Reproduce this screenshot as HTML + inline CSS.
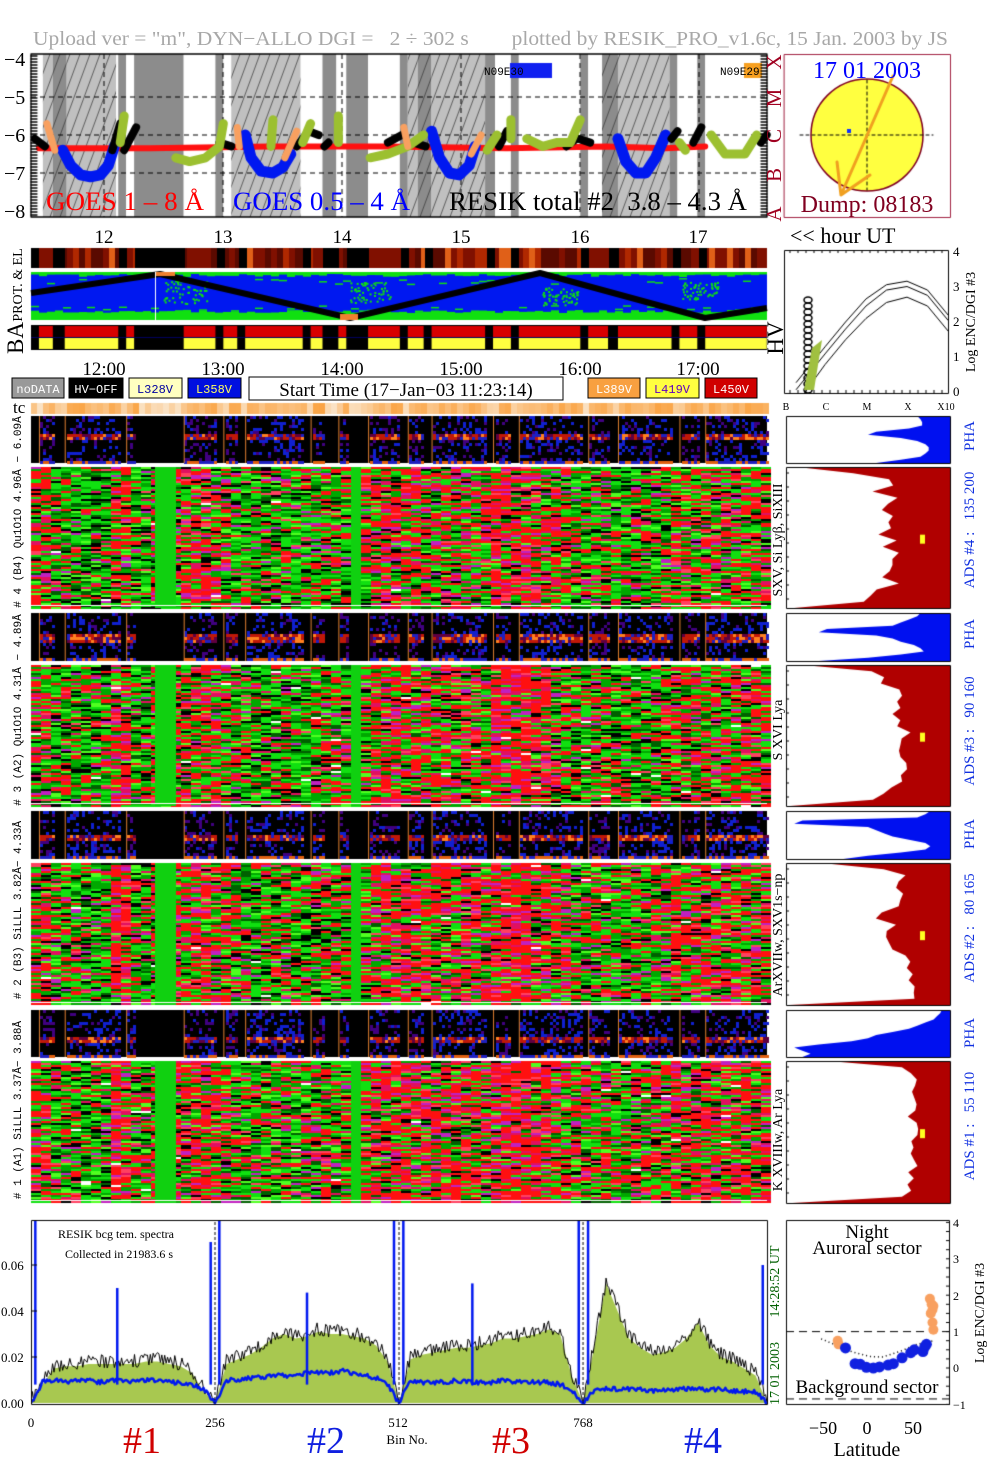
<!DOCTYPE html>
<html><head><meta charset="utf-8"><style>
html,body{margin:0;padding:0;background:#fff;}
#wrap{position:relative;width:1004px;height:1477px;overflow:hidden;}
canvas,svg{position:absolute;left:0;top:0;}
svg text{font-family:"Liberation Serif",serif;white-space:pre;}
.mono{font-family:"Liberation Mono",monospace !important;}
</style></head><body>
<div id="wrap">
<canvas id="cv" width="1004" height="1477"></canvas>
<svg id="tx" width="1004" height="1477" xml:space="preserve">
<text x="33" y="45" font-size="20" fill="#a8a8a8" textLength="915" lengthAdjust="spacingAndGlyphs">Upload ver = "m", DYN−ALLO DGI =   2 ÷ 302 s        plotted by RESIK_PRO_v1.6c, 15 Jan. 2003 by JS</text>
<g font-size="20" fill="#000">
<text x="4" y="66">−4</text><text x="4" y="104">−5</text><text x="4" y="142">−6</text><text x="4" y="180">−7</text><text x="4" y="218">−8</text></g>
<text x="46" y="210" font-size="26" fill="#f00" textLength="158" lengthAdjust="spacingAndGlyphs">GOES 1 – 8 Å</text>
<text x="233" y="210" font-size="26" fill="#00f" textLength="177" lengthAdjust="spacingAndGlyphs">GOES 0.5 – 4 Å</text>
<text x="449" y="210" font-size="26" fill="#000" textLength="298" lengthAdjust="spacingAndGlyphs">RESIK total #2  3.8 – 4.3 Å</text>
<text x="484" y="75" font-size="11" class="mono" fill="#000">N09E30</text>
<text x="720" y="75" font-size="11" class="mono" fill="#000">N09E29</text>
<g font-size="21" fill="#a00020">
<text transform="translate(781,62) rotate(-90)" text-anchor="middle">X</text>
<text transform="translate(781,98) rotate(-90)" text-anchor="middle">M</text>
<text transform="translate(781,136) rotate(-90)" text-anchor="middle">C</text>
<text transform="translate(781,175) rotate(-90)" text-anchor="middle">B</text>
<text transform="translate(781,214) rotate(-90)" text-anchor="middle">A</text></g>
<text x="867" y="78" font-size="24" fill="#0000ff" text-anchor="middle">17 01 2003</text>
<text x="867" y="212" font-size="24" fill="#800020" text-anchor="middle">Dump: 08183</text>
<g font-size="19" text-anchor="middle">
<text x="104" y="243">12</text><text x="223" y="243">13</text><text x="342" y="243">14</text><text x="461" y="243">15</text><text x="580" y="243">16</text><text x="698" y="243">17</text></g>
<text x="790" y="243" font-size="22">&lt;&lt; hour UT</text>
<text transform="translate(22,285) rotate(-90)" font-size="14" text-anchor="middle">PROT. &amp; EL</text>
<text transform="translate(23,338) rotate(-90)" font-size="23" text-anchor="middle">BA</text>
<text transform="translate(783,338) rotate(-90)" font-size="23" text-anchor="middle">HV</text>
<g font-size="19" text-anchor="middle">
<text x="104" y="375">12:00</text><text x="223" y="375">13:00</text><text x="342" y="375">14:00</text><text x="461" y="375">15:00</text><text x="580" y="375">16:00</text><text x="698" y="375">17:00</text></g>
<g font-size="12" class="mono">
<rect x="12" y="378" width="52" height="20" fill="#999" stroke="#000"/><text x="38" y="393" text-anchor="middle" fill="#fff" class="mono">noDATA</text>
<rect x="69" y="378" width="54" height="20" fill="#000" stroke="#000"/><text x="96" y="393" text-anchor="middle" fill="#fff" class="mono">HV−OFF</text>
<rect x="129" y="378" width="53" height="20" fill="#ffffc0" stroke="#000"/><text x="155" y="393" text-anchor="middle" fill="#0000a0" class="mono">L328V</text>
<rect x="188" y="378" width="53" height="20" fill="#0010e0" stroke="#000"/><text x="214" y="393" text-anchor="middle" fill="#ffff60" class="mono">L358V</text>
<rect x="249" y="377" width="314" height="23" fill="#fff" stroke="#000"/>
<text x="406" y="396" text-anchor="middle" font-size="19" style="font-family:'Liberation Serif',serif">Start Time (17−Jan−03 11:23:14)</text>
<rect x="588" y="378" width="52" height="20" fill="#f8a040" stroke="#000"/><text x="614" y="393" text-anchor="middle" fill="#fff" class="mono">L389V</text>
<rect x="646" y="378" width="53" height="20" fill="#ffff40" stroke="#000"/><text x="672" y="393" text-anchor="middle" fill="#6000c0" class="mono">L419V</text>
<rect x="705" y="378" width="52" height="20" fill="#d00000" stroke="#000"/><text x="731" y="393" text-anchor="middle" fill="#fff" class="mono">L450V</text></g>
<text x="13" y="413" font-size="17">tc</text>
<g font-size="10" text-anchor="middle">
<text x="786" y="410">B</text><text x="826" y="410">C</text><text x="867" y="410">M</text><text x="908" y="410">X</text><text x="946" y="410">X10</text></g>
<g font-size="13">
<text x="953" y="256">4</text><text x="953" y="291">3</text><text x="953" y="326">2</text><text x="953" y="361">1</text><text x="953" y="396">0</text></g>
<text transform="translate(975,322) rotate(-90)" font-size="14" text-anchor="middle">Log ENC/DGI #3</text>
<g font-size="11" class="mono" text-anchor="middle" fill="#000">
<text class="mono" transform="translate(21,512) rotate(-90)"># 4 (B4) Qu1O1O 4.96Å − 6.09Å</text>
<text class="mono" transform="translate(21,710) rotate(-90)"># 3 (A2) Qu1O1O 4.31Å − 4.89Å</text>
<text class="mono" transform="translate(21,910) rotate(-90)"># 2 (B3) SiLLL 3.82Å− 4.33Å</text>
<text class="mono" transform="translate(21,1110) rotate(-90)"># 1 (A1) SiLLL 3.37Å− 3.88Å</text></g>
<g font-size="14" text-anchor="middle">
<text transform="translate(782,540) rotate(-90)">SXV, Si Lyβ, SiXIII</text>
<text transform="translate(782,730) rotate(-90)">S XVI Lya</text>
<text transform="translate(782,935) rotate(-90)">ArXVIIw, SXV1s−np</text>
<text transform="translate(782,1140) rotate(-90)">K XVIIIw, Ar Lya</text></g>
<g font-size="15" fill="#1030e0" text-anchor="middle">
<text transform="translate(974,436) rotate(-90)">PHA</text><text transform="translate(974,530) rotate(-90)">ADS #4 :   135 200</text>
<text transform="translate(974,634) rotate(-90)">PHA</text><text transform="translate(974,731) rotate(-90)">ADS #3 :   90 160</text>
<text transform="translate(974,834) rotate(-90)">PHA</text><text transform="translate(974,928) rotate(-90)">ADS #2 :   80 165</text>
<text transform="translate(974,1033) rotate(-90)">PHA</text><text transform="translate(974,1126) rotate(-90)">ADS #1 :   55 110</text></g>
<g font-size="13">
<text x="1" y="1408">0.00</text><text x="1" y="1362">0.02</text><text x="1" y="1316">0.04</text><text x="1" y="1270">0.06</text></g>
<text x="58" y="1238" font-size="12">RESIK bcg tem. spectra</text>
<text x="65" y="1258" font-size="12">Collected in 21983.6 s</text>
<text transform="translate(779,1405) rotate(-90)" font-size="14" fill="#006000">17 01 2003       14:28:52 UT</text>
<g font-size="13" text-anchor="middle">
<text x="31" y="1427">0</text><text x="215" y="1427">256</text><text x="398" y="1427">512</text><text x="583" y="1427">768</text></g>
<text x="407" y="1444" font-size="13" text-anchor="middle">Bin No.</text>
<g font-size="38" text-anchor="middle">
<text x="142" y="1453" fill="#d00000">#1</text><text x="326" y="1453" fill="#1020e0">#2</text><text x="511" y="1453" fill="#d00000">#3</text><text x="703" y="1453" fill="#1020e0">#4</text></g>
<text x="867" y="1238" font-size="19" text-anchor="middle">Night</text>
<text x="867" y="1254" font-size="19" text-anchor="middle">Auroral sector</text>
<text x="867" y="1393" font-size="19" text-anchor="middle">Background sector</text>
<g font-size="18" text-anchor="middle">
<text x="823" y="1434">−50</text><text x="867" y="1434">0</text><text x="913" y="1434">50</text></g>
<text x="867" y="1456" font-size="20" text-anchor="middle">Latitude</text>
<g font-size="12">
<text x="953" y="1227">4</text><text x="953" y="1263">3</text><text x="953" y="1300">2</text><text x="953" y="1336">1</text><text x="953" y="1372">0</text><text x="953" y="1409">−1</text></g>
<text transform="translate(984,1313) rotate(-90)" font-size="14" text-anchor="middle">Log ENC/DGI #3</text>
</svg>
</div>
<script>
// ---------- data (time in minutes since 11:23:14) ----------
const baOn = [[4,11],[17,44],[48,52],[77,93],[97,104],[108,137],[141,147],[155,159],[170,186],[190,198],[202,229],[233,242],[246,277],[281,291],[296,323],[327,336],[340,371]];
// background type: 0 white, 1 light hatched, 2 dark hatched, 3 dark plain
const bgBands = [[0,6,0],[6,11,1],[11,18,2],[18,43,1],[43,44,0],[44,48,3],[48,52,0],[52,77,3],[77,93,0],[93,97,3],[97,101,0],[101,136,1],[136,147,0],[147,154,3],[154,159,0],[159,170,3],[170,186,0],[186,190,3],[190,195,1],[195,202,2],[202,229,1],[229,234,3],[234,242,0],[242,246,3],[246,277,0],[277,281,3],[281,288,0],[288,296,2],[296,322,1],[322,326,3],[326,336,0],[336,340,3],[340,371,0]];
const goesLong = [[4,-6.35],[60,-6.35],[120,-6.3],[180,-6.3],[240,-6.35],[290,-6.3],[320,-6.35],[340,-6.3]];
const goesShortU = [
 [[16,-6.4],[20,-6.8],[25,-7.05],[30,-7.1],[35,-7.05],[39,-6.8],[42,-6.3]],
 [[108,-6.0],[111,-6.6],[116,-6.95],[122,-7.0],[127,-6.85],[131,-6.5]],
 [[202,-5.9],[206,-6.6],[211,-7.0],[216,-7.05],[221,-6.8],[224,-6.3]],
 [[296,-6.1],[300,-6.7],[305,-7.0],[310,-7.0],[315,-6.6],[320,-6.0]]];
const resikGreen = [
 [[45,-6.2],[47,-5.5]],[[73,-6.6],[80,-6.7],[88,-6.6],[95,-6.3],[97,-5.7]],[[121,-6.3],[122,-5.6]],[[137,-6.2],[141,-5.7]],
 [[155,-6.2],[155,-5.5]],[[171,-6.6],[180,-6.5],[190,-6.3],[198,-6.0]],[[230,-6.4],[235,-6.0]],[[242,-5.6],[242,-6.1]],
 [[250,-6.1],[258,-6.3],[265,-6.2],[272,-6.2],[277,-5.6]],[[327,-6.2],[330,-6.4]],[[343,-6.0],[350,-6.5],[360,-6.5],[366,-6.0]]];
const resikOrange = [[[8,-5.7],[12,-6.4]],[[104,-5.8],[105,-6.3]],[[128,-6.6],[134,-5.9]],[[188,-5.8],[190,-6.3]],[[222,-6.5],[227,-6.0]]];
const resikBlack = [[[2,-6.1],[7,-6.3]],[[41,-6.4],[45,-5.7]],[[47,-6.4],[53,-5.8]],[[95,-6.2],[101,-6.3]],[[134,-6.3],[140,-5.9],[145,-6.0]],[[148,-6.3],[150,-6.2]],[[180,-6.2],[187,-6.0]],[[193,-6.2],[199,-6.3]],[[236,-6.3],[240,-5.9]],[[270,-6.3],[275,-6.1]],[[276,-6.1],[282,-6.2]],[[323,-6.1],[326,-5.9]],[[334,-6.2],[338,-5.8]],[[368,-6.2],[371,-6.0]]];
// ADS redness per 20px column segment, per group (4,3,2,1)
const redBase = [.5,.25,.2,.2,.65,.2,.4,.5,.55,.45,.25,.2,.25,.2,.35,.3,.35,.6,.6,.55,.5,.5,.45,.7,.7,.6,.45,.3,.35,.25,.3,.35,.45,.5,.45,.5,.5];
const redShift = [0, .02, .06, .08];
const phaBandPos = [0.42, 0.5, 0.52, 0.62];
const phaProfiles = [
 [0.2,0.18,0.17,0.17,0.25,0.45,0.5,0.3,0.2,0.15,0.13,0.13,0.15,0.18,0.3,0.45],
 [0.18,0.2,0.25,0.3,0.35,0.75,0.8,0.45,0.35,0.3,0.22,0.18,0.16,0.3,0.5,0.8],
 [0.12,0.15,0.2,0.9,0.95,0.5,0.45,0.4,0.35,0.25,0.15,0.12,0.15,0.3,0.5,0.65],
 [0.05,0.06,0.08,0.1,0.15,0.2,0.25,0.35,0.45,0.5,0.6,0.8,0.95,0.9,0.85,0.9]];
const adsProfiles = [
 [0.95,0.55,0.4,0.38,0.5,0.33,0.38,0.42,0.33,0.38,0.33,0.42,0.33,0.38,0.32,0.33,0.38,0.33,0.38,0.33,0.42,0.45,0.55,0.95],
 [0.9,0.5,0.38,0.4,0.33,0.33,0.3,0.3,0.38,0.3,0.3,0.28,0.3,0.3,0.3,0.33,0.3,0.3,0.33,0.33,0.38,0.42,0.45,0.95],
 [0.8,0.38,0.28,0.3,0.3,0.3,0.32,0.35,0.38,0.42,0.35,0.38,0.42,0.38,0.35,0.3,0.28,0.27,0.25,0.25,0.24,0.22,0.25,0.95],
 [0.7,0.3,0.26,0.24,0.22,0.23,0.22,0.24,0.23,0.22,0.21,0.22,0.23,0.24,0.22,0.23,0.22,0.21,0.22,0.24,0.25,0.27,0.3,0.95]];
const specBins = [0,16,32,48,64,80,96,112,128,144,160,176,192,208,224,240,256,272,288,304,320,336,352,368,384,400,416,432,448,464,480,496,512,528,544,560,576,592,608,624,640,656,672,688,704,720,736,752,768,784,800,816,832,848,864,880,896,912,928,944,960,976,992,1008,1024];
const specGreen = [0,8,15,16,16,17,17,17,17,17,18,18,17,16,13,5,0,17,19,21,24,28,30,28,29,31,30,30,29,28,25,18,0,19,21,22,23,24,24,25,26,28,28,29,30,32,30,12,0,25,52,40,28,24,21,22,24,28,35,25,20,18,15,12,0];
const specBlue = [0,9,10,9,10,10,9,10,10,9,10,10,9,9,8,6,0,10,10,11,11,12,12,12,13,13,13,14,13,12,11,8,0,10,9,9,9,10,9,9,9,10,9,9,9,9,8,6,0,6,6,6,6,6,5,6,6,6,6,6,6,5,5,5,0];
const blueSpikes = [[6,80],[120,50],[250,70],[262,80],[384,48],[505,80],[518,80],[614,52],[762,80],[775,80],[1018,60]];
const latBlue = [[-27,0.55],[-16,0.12],[-10,0.1],[-3,0.02],[5,0.0],[12,0.03],[22,0.08],[28,0.12],[38,0.28],[48,0.42],[52,0.5],[62,0.45],[64,0.58],[66,0.65]];
const latOrange = [[-36,0.75],[-35,0.65],[70,1.9],[72,1.75],[73,1.6],[71,1.5],[74,1.7],[73,1.25],[74,1.05]];
const latCurve = [[-55,0.8],[-40,0.65],[-20,0.45],[0,0.32],[15,0.3],[35,0.45],[55,0.65],[75,0.75]];
// flux-response curves: [flux class position (B=0..X10=4), log ENC]
const fluxCurveA = [[0.5,0.0],[1,0.8],[1.5,1.5],[2,2.1],[2.5,2.55],[3,2.7],[3.5,2.45],[4,1.75]];
const fluxCurveB = [[0.3,0.1],[1,1.1],[1.5,1.8],[2,2.45],[2.5,2.9],[3,3.0],[3.5,2.75],[4,2.05]];
const fluxCurveC = [[0.3,0.3],[1,1.3],[1.5,2.0],[2,2.65],[2.5,3.05],[3,3.15],[3.5,2.9],[4,2.2]];

// ---------- helpers ----------
const cv=document.getElementById('cv'), c=cv.getContext('2d');
const TX = m => 31 + m*1.983;
function hash(a,b,s){let h=(a*374761393+b*668265263+s*2147483647)|0;h=(h^(h>>>13))*1274126177|0;h=h^(h>>>16);return ((h>>>0)%10000)/10000;}
function inOn(m){for(const [a,b] of baOn) if(m>=a&&m<b) return true; return false;}
function poly(pts,fx,fy){c.beginPath();pts.forEach((p,i)=>{const x=fx(p[0]),y=fy(p[1]);i?c.lineTo(x,y):c.moveTo(x,y);});}

// ---------- GOES panel ----------
const GY = v => 59 + (-4 - v)*38;
c.fillStyle='#fff';c.fillRect(31,54,736,163);
for(const [a,b,t] of bgBands){
 const x0=TX(a),x1=TX(b);
 c.fillStyle=t==0?'#fff':t==1?'#c0c0c0':'#8c8c8c';c.fillRect(x0,54,x1-x0,163);
 if(t==1||t==2){c.save();c.beginPath();c.rect(x0,54,x1-x0,163);c.clip();c.strokeStyle='#333';c.lineWidth=0.7;
  for(let k=-200;k<800;k+=10){c.beginPath();c.moveTo(k,217);c.lineTo(k+60,54);c.stroke();}c.restore();}
}
c.setLineDash([5,4]);c.strokeStyle='#000';c.lineWidth=1;
[-5,-6,-7].forEach(v=>{c.beginPath();c.moveTo(31,GY(v));c.lineTo(767,GY(v));c.stroke();});
[0,1,2,3,4,5].forEach(h=>{const x=104+h*119;c.beginPath();c.moveTo(x,54);c.lineTo(x,217);c.stroke();});
c.setLineDash([]);
c.lineCap='round';c.lineJoin='round';
c.strokeStyle='#ff1010';c.lineWidth=6;poly(goesLong,TX,GY);c.stroke();
c.strokeStyle='#0018f0';c.lineWidth=11;goesShortU.forEach(s=>{poly(s,TX,GY);c.stroke();});
c.strokeStyle='#000';c.lineWidth=8;resikBlack.forEach(s=>{poly(s,TX,GY);c.stroke();});
c.strokeStyle='#9cc030';c.lineWidth=9;resikGreen.forEach(s=>{poly(s,TX,GY);c.stroke();});
c.strokeStyle='#f8a060';c.lineWidth=7;resikOrange.forEach(s=>{poly(s,TX,GY);c.stroke();});
c.fillStyle='#1020f0';c.fillRect(510,63,42,15);c.fillStyle='#f8a020';c.fillRect(744,63,18,15);
c.strokeStyle='#000';c.lineWidth=1.3;c.strokeRect(31,54,736,163);
for(let y=56;y<216;y+=3){c.beginPath();c.moveTo(31,y);c.lineTo(37,y);c.stroke();c.beginPath();c.moveTo(761,y);c.lineTo(767,y);c.stroke();}

// ---------- sun box ----------
c.fillStyle='#fff';c.fillRect(784,54,166,163);
c.strokeStyle='#a02040';c.lineWidth=1;c.strokeRect(784.5,54.5,166,163);
c.beginPath();c.arc(867,135,56,0,Math.PI*2);c.fillStyle='#ffff40';c.fill();c.strokeStyle='#800020';c.lineWidth=1.5;c.stroke();
c.setLineDash([3,3]);c.strokeStyle='#000';c.lineWidth=1;
c.beginPath();c.moveTo(800,135);c.lineTo(933,135);c.stroke();c.beginPath();c.moveTo(867,80);c.lineTo(867,190);c.stroke();c.setLineDash([]);
c.fillStyle='#1030ff';c.fillRect(847,129,4,4);
c.strokeStyle='#f0a020';c.lineWidth=3;c.beginPath();c.moveTo(893,76);c.lineTo(841,195);c.lineTo(837,162);c.moveTo(841,195);c.lineTo(870,175);c.stroke();

// ---------- prot & el strip ----------
for(let x=31;x<767;x+=2){const m=(x-31)/1.983;
 if(inOn(m)){const h=hash(Math.floor(x/6),1,3);c.fillStyle=h<0.12?'#e06018':h<0.55?'#801000':h<0.85?'#5a0a00':'#b02800';}else c.fillStyle='#000';
 c.fillRect(x,248,2,20);}
// map
c.fillStyle='#0018f0';c.fillRect(31,272,736,48);
c.fillStyle='#10e010';
c.fillRect(31,272,736,2);c.fillRect(31,317,736,3);
for(let x=31;x<767;x+=8){const h=hash(x,7,1),h2=hash(x,9,2);
 c.fillRect(x,274,8,h*3);c.fillRect(x,313-h2*3,8,4+h2*3);
 if(hash(x,3,3)<0.3)c.fillRect(x,278+hash(x,4,4)*6,8,1.5);
 if(hash(x,5,5)<0.3)c.fillRect(x,305+hash(x,6,6)*6,8,1.5);}
[[185,292,22],[370,292,20],[560,296,18],[700,290,18]].forEach(([x,y,r])=>{for(let k=0;k<60;k++){c.fillRect(x+(hash(k,x,4)-0.5)*r*2,y+(hash(k,y,5)-0.5)*r,2,2);}});
const zig=[[31,293],[160,274],[350,318],[540,273],[705,318],[767,308]];
c.strokeStyle='#000';c.lineWidth=6;c.lineCap='butt';c.beginPath();zig.forEach((p,i)=>i?c.lineTo(p[0],p[1]):c.moveTo(p[0],p[1]));c.stroke();
c.fillStyle='#f08030';c.fillRect(155,272,20,4);c.fillRect(340,314,18,6);
c.fillStyle='#fff';c.fillRect(155,272,1,48);
// BA bars
c.fillStyle='#000';c.fillRect(31,325,736,25);
for(const [a,b] of baOn){const x0=TX(a),w=TX(b)-x0;c.fillStyle='#d80000';c.fillRect(x0,326,w,11);c.fillStyle='#ffff40';c.fillRect(x0,338,w,11);}
c.fillStyle='#000060';c.fillRect(31,337,736,1);
// tc strip
for(let x=31;x<767;x+=6){const h=hash(x,3,9);const m=(x-31)/1.983;const base=inOn(m)?0.55:0.2;const v=Math.min(1,base+h*0.35);
 c.fillStyle=`rgb(${250},${Math.round(245-v*90)},${Math.round(235-v*185)})`;c.fillRect(x,403,6,11);}

// ---------- heatmaps ----------
const groups=[[416,463,467,608],[613,661,665,806],[811,859,863,1005],[1010,1057,1061,1203]];
groups.forEach(([p0,p1,a0,a1],g)=>{
 // PHA
 c.fillStyle='#000';c.fillRect(31,p0,736,p1-p0);
 const bp=phaBandPos[g];
 for(let x=31;x<767;x+=3){const m=(x-31)/1.983;if(!inOn(m))continue;
  const segLen=(()=>{for(const [a,b] of baOn) if(m>=a&&m<b) return b-a;return 0;})();
  const bright=segLen>20?1:0.5;
  for(let y=p0;y<p1;y+=3){const f=(y-p0)/(p1-p0),h=hash(x,y,g+11);
   let col=null;
   if(Math.abs(f-bp)<0.07) col=h<0.25*bright?'#ff8020':h<0.6?'#c01808':h<0.8?'#600040':'#2020c0';
   else if(f>0.92) col=h<0.5?'#e06010':'#2020c0';
   else if(h<0.22*bright) col='#1020d0'; else if(h<0.3) col='#400080';
   if(col){c.fillStyle=col;c.fillRect(x,y,3,3);}}}
 for(const [a,b] of baOn){c.fillStyle='#e08030';c.fillRect(TX(a),p0,1,p1-p0);}
 // ADS
 c.fillStyle='#000';c.fillRect(31,a0,736,a1-a0);
 for(let x=31;x<767;x+=10){const seg=Math.min(36,Math.floor((x-31)/20));const r=Math.min(0.95,redBase[seg]+redShift[g]);
  for(let y=a0;y<a1;y+=2){const h=hash(x,y,g+21),h2=hash(y,x,g+5);let col;
   if(h<r) col=h2<0.6?'#ff1010':h2<0.78?'#e01060':h2<0.9?'#c020c0':'#ff4060';
   else col=h2<0.35?'#10e010':h2<0.6?'#00a800':h2<0.75?'#006000':h2<0.9?'#000':'#50ff20';
   if(h2>0.996) col='#fff';
   c.fillStyle=col;c.fillRect(x,y,10,2);}}
 c.fillStyle='#10d010';c.fillRect(155,a0,21,a1-a0);c.fillRect(351,a0,10,a1-a0);
 c.fillStyle='#fff';c.fillRect(31,a1-3,736,1);
 // right PHA panel
 const rx0=786,rx1=950;
 c.fillStyle='#fff';c.fillRect(rx0,p0,rx1-rx0,p1-p0);
 const pp=phaProfiles[g];c.fillStyle='#0010f0';c.beginPath();c.moveTo(rx1,p0);
 pp.forEach((v,i)=>c.lineTo(rx1-v*(rx1-rx0),p0+i*(p1-p0)/(pp.length-1)));c.lineTo(rx1,p1);c.closePath();c.fill();
 c.strokeStyle='#000';c.lineWidth=1;c.strokeRect(rx0+.5,p0+.5,rx1-rx0,p1-p0);
 const ap=adsProfiles[g];c.fillStyle='#fff';c.fillRect(rx0,a0,rx1-rx0,a1-a0);
 c.fillStyle='#b00000';c.beginPath();c.moveTo(rx1,a0);
 ap.forEach((v,i)=>{const y=a0+i*(a1-a0)/(ap.length-1);const j=(hash(i,g,7)-0.5)*0.08;c.lineTo(rx1-(v+j)*(rx1-rx0),y);});
 c.lineTo(rx1,a1);c.closePath();c.fill();
 c.fillStyle='#ffff20';c.fillRect(920,a0+(a1-a0)*0.48,5,9);
 c.strokeStyle='#000';c.strokeRect(rx0+.5,a0+.5,rx1-rx0,a1-a0);
 for(let y=a0+6;y<a1;y+=14){c.beginPath();c.moveTo(rx0,y);c.lineTo(rx0+3,y);c.stroke();}
});

// ---------- flux curves panel ----------
const FX = v => 784 + v*41, FYc = v => 393 - v*35.5;
c.fillStyle='#fff';c.fillRect(784,250,164,143);
c.save();c.beginPath();c.rect(784,250,164,143);c.clip();
c.strokeStyle='#000';c.lineWidth=1;c.lineCap='round';
[fluxCurveA,fluxCurveB,fluxCurveC].forEach(cu=>{poly(cu,FX,FYc);c.stroke();});
c.lineWidth=1.5;
for(let y=300;y<392;y+=6){c.beginPath();c.ellipse(808,y,4,3,0,0,Math.PI*2);c.stroke();}
c.fillStyle='#a0c040';c.beginPath();c.moveTo(804,390);c.lineTo(812,348);c.lineTo(822,340);c.lineTo(814,390);c.closePath();c.fill();
c.restore();
c.strokeStyle='#000';c.lineWidth=1;c.strokeRect(784.5,250.5,164,143);
for(let x=790;x<948;x+=8){c.beginPath();c.moveTo(x,250);c.lineTo(x,253);c.moveTo(x,393);c.lineTo(x,390);c.stroke();}

// ---------- spectrum ----------
const SX = b => 31 + b*0.7188, SY = v => 1403 - v*2.3;
c.save();c.beginPath();c.rect(31,1220,736,184);c.clip();
c.fillStyle='#a8c850';c.beginPath();c.moveTo(SX(0),SY(0));specBins.forEach((b,i)=>c.lineTo(SX(b),SY(specGreen[i])));c.lineTo(SX(1024),SY(0));c.closePath();c.fill();
c.strokeStyle='#000';c.lineWidth=1;c.beginPath();
for(let b=0;b<=1024;b+=2){const i=Math.min(63,Math.floor(b/16)),f=(b-specBins[i])/16;const v=specGreen[i]+(specGreen[i+1]-specGreen[i])*f;const j=v>0?(hash(b,1,2)-0.3)*6:0;const x=SX(b),y=SY(Math.max(0,v+j));b?c.lineTo(x,y):c.moveTo(x,y);}c.stroke();
c.strokeStyle='#0018f0';c.lineWidth=2.5;c.beginPath();
for(let b=0;b<=1024;b+=2){const i=Math.min(63,Math.floor(b/16)),f=(b-specBins[i])/16;const v=specBlue[i]+(specBlue[i+1]-specBlue[i])*f;const j=v>0?(hash(b,5,2)-0.5)*2:0;const x=SX(b),y=SY(Math.max(0,v+j));b?c.lineTo(x,y):c.moveTo(x,y);}c.stroke();
c.lineWidth=2.5;blueSpikes.forEach(([b,v])=>{c.beginPath();c.moveTo(SX(b),SY(8));c.lineTo(SX(b),SY(v));c.stroke();});
c.setLineDash([3,2]);c.strokeStyle='#000';c.lineWidth=1;[256,512,768].forEach(b=>{c.beginPath();c.moveTo(SX(b),1222);c.lineTo(SX(b),1403);c.stroke();});c.setLineDash([]);
c.restore();
c.strokeStyle='#000';c.lineWidth=1;c.strokeRect(31.5,1220.5,736,184);
[0.02,0.04,0.06].forEach((v,i)=>{const y=SY((i+1)*20);c.beginPath();c.moveTo(31,y);c.lineTo(37,y);c.stroke();});

// ---------- latitude panel ----------
const LX = d => 869 + d*0.87, LY = v => 1368 - v*36.4;
c.strokeRect(786.5,1220.5,163,184);
c.setLineDash([8,5]);c.beginPath();c.moveTo(786,LY(1));c.lineTo(950,LY(1));c.moveTo(786,LY(-0.85));c.lineTo(950,LY(-0.85));c.stroke();
c.setLineDash([1,3]);c.lineWidth=1.5;poly(latCurve,LX,LY);c.stroke();c.setLineDash([]);
c.fillStyle='#f8a060';latOrange.forEach(([d,v])=>{c.beginPath();c.arc(LX(d),LY(v),5,0,7);c.fill();});
c.fillStyle='#1020e0';latBlue.forEach(([d,v])=>{c.beginPath();c.arc(LX(d),LY(v),5.5,0,7);c.fill();});
c.strokeStyle='#000';c.lineWidth=1;
for(let v=-1;v<=4;v+=0.25){const y=LY(v);c.beginPath();c.moveTo(946,y);c.lineTo(950,y);c.stroke();}
</script>
</body></html>
